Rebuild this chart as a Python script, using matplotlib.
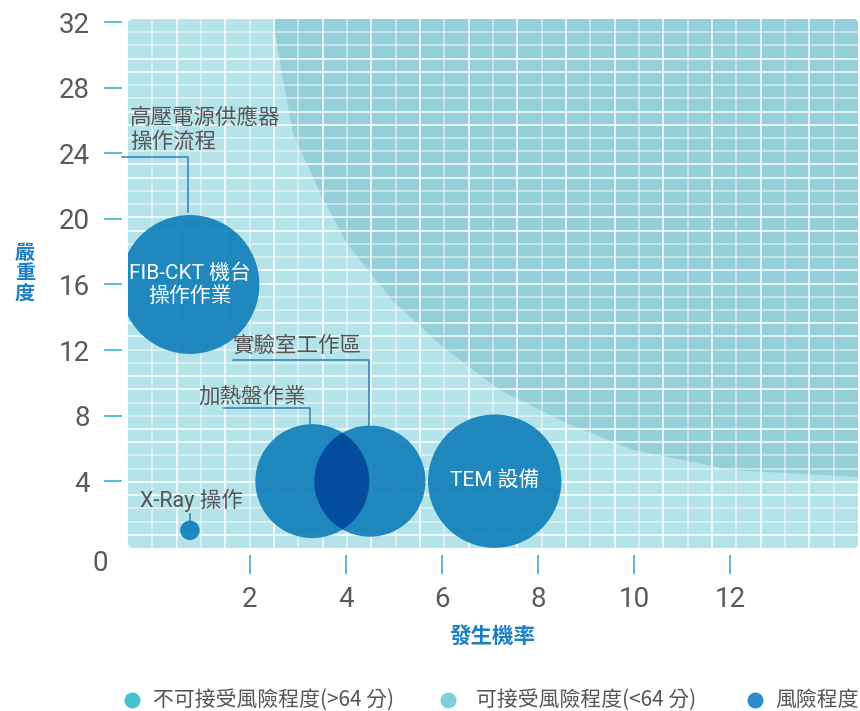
import matplotlib
matplotlib.use("Agg")
import matplotlib.pyplot as plt
from matplotlib.patches import Circle, FancyBboxPatch, Polygon
from matplotlib.lines import Line2D
from matplotlib.transforms import Affine2D, ScaledTranslation

plt.rcParams['font.family'] = ['Roboto', 'Noto Sans CJK TC', 'DejaVu Sans']

#==============================#
# data
#==============================#
probability = [0.75, 0.75, 3.3, 4.5, 7.1]     # 發生機率
severity = [1, 16, 4, 4, 4]                   # 嚴重度
bubble_pt = [7, 50, 41, 40, 48]               # bubble radius (points)
inner_labels = ['', 'FIB-CKT 機台\n操作作業', '', '', 'TEM 設備']
outer_labels = ['X-Ray 操作', '高壓電源供應器\n操作流程', '加熱盤作業', '實驗室工作區']
outer_xy = [(-0.29, 2.8), (-0.5, 25.4), (0.92, 9.1), (1.65, 12.2)]
leader_x = [0.75, 0.71, 3.25, 4.48]
leader_start_x = [None, -0.67, 1.46, 1.65]
leader_elbow_y = [1.99, 23.8, 8.46, 11.4]
leader_end_y = [1.0, 20.4, 7.0, 7.0]

# boundary of the "unacceptable" zone
zone_x = [2.48, 2.64, 2.90, 3.46, 4.02, 4.98, 6.02, 7.21, 8.6, 9.98, 12.06, 14.7]
zone_y = [32.2, 29.3, 25.2, 21.6, 18.5, 15.0, 12.2, 9.55, 7.54, 5.9, 4.67, 4.25]

x_ticks = [2, 4, 6, 8, 10, 12]
y_ticks = [4, 8, 12, 16, 20, 24, 28, 32]

legend_labels = ['不可接受風險程度(>64 分)', '可接受風險程度(<64 分)', '風險程度']
legend_colors = ['#45c1d2', '#7fd0dc', '#2a8dc9']

light_bg = '#b5e3ea'
dark_bg = '#95cfda'
bubble_c = '#0d7db9'
overlap_c = '#03489a'
tick_c = '#4ec3d3'
text_c = '#555555'
title_c = '#1b80c4'
cjk = ['Noto Sans CJK TC', 'DejaVu Sans']

fig = plt.figure(figsize=(8.6, 7.11), dpi=100)
ax = fig.add_axes([128/860, 1-548/711, 730/860, 529/711])
ax.set_xlim(-0.54, 14.67)
ax.set_ylim(-0.08, 32.2)
ax.set_facecolor('none')
for s in ax.spines.values():
    s.set_visible(False)
ax.spines['left'].set_position(('outward', 4.5))
ax.spines['bottom'].set_position(('outward', 5))

# background panel
panel = FancyBboxPatch((0, 0), 1, 1, boxstyle='round,pad=0,rounding_size=0.008',
                       transform=ax.transAxes, fc=light_bg, ec='none', zorder=0)
ax.add_patch(panel)

zone = Polygon(list(zip(zone_x, zone_y)) + [(15, 4.25), (15, 33), (2.48, 33)],
               closed=True, fc=dark_bg, ec='none', zorder=1)
ax.add_patch(zone)
zone.set_clip_path(panel)

# decorative grid
for k in range(1, 30):
    ln, = ax.plot([k/30, k/30], [0, 1], transform=ax.transAxes, color='white',
                  lw=1.1, alpha=1.0 if k % 2 == 0 else 0.6, zorder=2)
    ln.set_clip_path(panel)
for k in range(1, 40):
    ln, = ax.plot([0, 1], [k/40, k/40], transform=ax.transAxes, color='white',
                  lw=1.1, alpha=1.0 if k % 4 in (0, 1) else 0.6, zorder=2)
    ln.set_clip_path(panel)

# bubbles
pt2px = Affine2D().scale(fig.dpi/72.)
circles = []
for x, y, r in zip(probability, severity, bubble_pt):
    tr = pt2px + ScaledTranslation(x, y, ax.transData)
    c = Circle((0, 0), r, transform=tr, fc=bubble_c, ec='none', alpha=0.9, zorder=3)
    ax.add_patch(c)
    circles.append(c)

# overlap of the two middle bubbles
tr = pt2px + ScaledTranslation(probability[3], severity[3], ax.transData)
ov = Circle((0, 0), bubble_pt[3], transform=tr, fc=overlap_c, ec='none', alpha=0.9, zorder=4)
ax.add_patch(ov)
ov.set_clip_path(circles[2])

for x, y, lab in zip(probability, severity, inner_labels):
    if lab:
        ax.text(x, y, lab, color='white', fontsize=15, ha='center', va='center',
                linespacing=1.25, zorder=6)

# outer labels and leaders
for i, lab in enumerate(outer_labels):
    tx, ty = outer_xy[i]
    ax.text(tx, ty, lab, color=text_c, fontsize=15.5, ha='left', va='center',
            linespacing=1.2, zorder=6, clip_on=False)
    if leader_start_x[i] is None:
        xs = [leader_x[i], leader_x[i]]
        ys = [leader_elbow_y[i], leader_end_y[i]]
    else:
        xs = [leader_start_x[i], leader_x[i], leader_x[i]]
        ys = [leader_elbow_y[i], leader_elbow_y[i], leader_end_y[i]]
    ax.plot(xs, ys, color='#2a80c0', lw=1.1, zorder=5, clip_on=False)

# ticks
ax.set_xticks(x_ticks)
ax.set_yticks(y_ticks)
ax.set_xticklabels([str(v) for v in x_ticks])
ax.set_yticklabels([str(v) for v in y_ticks])
ax.tick_params(axis='both', direction='out', color=tick_c, width=1.4,
               labelsize=20, labelcolor='#5a5a5a')
ax.tick_params(axis='y', length=13, pad=10)
ax.tick_params(axis='x', length=13.5, pad=9)
ax.annotate('0', xy=(0, 0), xycoords='axes fraction', xytext=(-20, -11),
            textcoords='offset points', ha='center', va='center',
            fontsize=20, color='#5a5a5a')

# axis titles
fig.text(25/860, 1-273/711, '嚴\n重\n度', color=title_c, fontsize=14.5, family=cjk,
         fontweight='bold', ha='center', va='center', linespacing=0.95)
fig.text(493/860, 1-636/711, '發生機率', color=title_c, fontsize=15.5, family=cjk,
         fontweight='bold', ha='center', va='center')

# legend
leg_x = [132, 448, 755]
leg_text_x = [153, 476, 775]
for lx, tx, lab, col in zip(leg_x, leg_text_x, legend_labels, legend_colors):
    fig.add_artist(Line2D([lx/860], [1-700/711], transform=fig.transFigure,
                          marker='o', ms=10.5, color=col, ls='none'))
    fig.text(tx/860, 1-700/711, lab, color=text_c, fontsize=15, family=cjk,
             ha='left', va='center')

fig.savefig('out.png', dpi=100)
